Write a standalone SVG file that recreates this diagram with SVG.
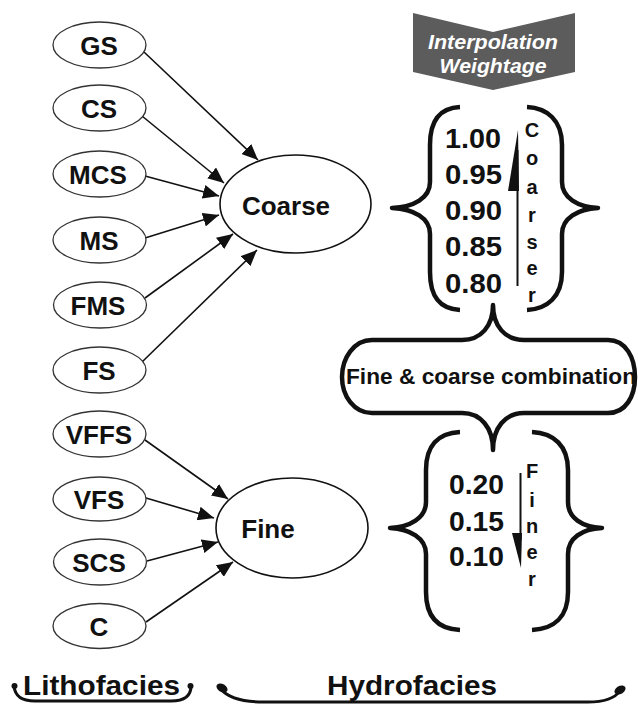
<svg xmlns="http://www.w3.org/2000/svg" width="638" height="704" viewBox="0 0 638 704">
<style>
text{font-family:"Liberation Sans",Arial,sans-serif;font-weight:bold;fill:#111;}
.sm ellipse{fill:#fff;stroke:#333;stroke-width:1.3;}
.sm text{font-size:26px;text-anchor:middle;}
.big ellipse{fill:#fff;stroke:#111;stroke-width:1.6;}
.big text{font-size:26px;text-anchor:middle;}
.conn line{stroke:#111;stroke-width:1.6;marker-end:url(#ah);}
.brace{fill:none;stroke:#111;stroke-width:4.5;stroke-linejoin:round;}
.num{font-size:28px;}
.vl{font-size:20px;text-anchor:middle;}
</style>
<defs>
<marker id="ah" markerUnits="userSpaceOnUse" markerWidth="18" markerHeight="14" refX="16" refY="7" orient="auto">
<path d="M0,0 L16,7 L0,14 Z" fill="#111"/>
</marker>
</defs>
<rect width="638" height="704" fill="#fff"/>

<g id="connectors" class="conn">
<line x1="144" y1="52" x2="258" y2="160"/>
<line x1="142" y1="116" x2="224" y2="183"/>
<line x1="145" y1="176" x2="219" y2="196"/>
<line x1="145" y1="238" x2="219" y2="215"/>
<line x1="145" y1="298" x2="233" y2="234"/>
<line x1="142" y1="362" x2="257" y2="250"/>
<line x1="145" y1="440" x2="228" y2="499"/>
<line x1="146" y1="498" x2="214" y2="518"/>
<line x1="147" y1="561" x2="218" y2="542"/>
<line x1="146" y1="622" x2="233" y2="562"/>
</g>

<g id="GS" class="sm"><ellipse cx="99.5" cy="45" rx="46.5" ry="23"/><text x="99" y="55">GS</text></g>
<g id="CS" class="sm"><ellipse cx="99.5" cy="108" rx="46.5" ry="23"/><text x="99" y="118">CS</text></g>
<g id="MCS" class="sm"><ellipse cx="99.5" cy="174" rx="46.5" ry="23"/><text x="98" y="184">MCS</text></g>
<g id="MS" class="sm"><ellipse cx="99.5" cy="240" rx="46.5" ry="23"/><text x="99" y="250">MS</text></g>
<g id="FMS" class="sm"><ellipse cx="100" cy="305" rx="46.5" ry="23"/><text x="98" y="315">FMS</text></g>
<g id="FS" class="sm"><ellipse cx="99.5" cy="370" rx="46.5" ry="23"/><text x="99" y="380">FS</text></g>
<g id="VFFS" class="sm"><ellipse cx="99.5" cy="434" rx="46.5" ry="23"/><text x="99" y="444">VFFS</text></g>
<g id="VFS" class="sm"><ellipse cx="99.5" cy="499" rx="46.5" ry="22"/><text x="99" y="509">VFS</text></g>
<g id="SCS" class="sm"><ellipse cx="100" cy="562" rx="46.5" ry="23"/><text x="99" y="572">SCS</text></g>
<g id="C" class="sm"><ellipse cx="99.5" cy="626" rx="46.5" ry="22.5"/><text x="99" y="636">C</text></g>

<g id="Coarse" class="big"><ellipse cx="295.5" cy="204" rx="75.5" ry="49"/><text x="286" y="215">Coarse</text></g>
<g id="Fine" class="big"><ellipse cx="292" cy="528" rx="76" ry="50"/><text x="268" y="538">Fine</text></g>

<g id="banner">
<polygon points="413,13 493,32 575,13 575,72 493,90 413,72" fill="#5c5c5c"/>
<text x="493" y="49" font-size="21" font-style="italic" text-anchor="middle" textLength="130" lengthAdjust="spacingAndGlyphs" style="fill:#fff">Interpolation</text>
<text x="493" y="73" font-size="21" font-style="italic" text-anchor="middle" textLength="107" lengthAdjust="spacingAndGlyphs" style="fill:#fff">Weightage</text>
</g>

<g id="coarse-weights">
<path class="brace" d="M460,107 C440,108 430,120 430,145 L430,182 C430,198 414,207 392,208 C414,209 430,218 430,234 L430,272 C430,297 440,309 460,310"/>
<path class="brace" d="M527,107 C547,108 562,120 562,145 L562,182 C562,198 578,207 598,208 C578,209 562,218 562,234 L562,272 C562,297 547,309 527,310"/>
<text class="num" x="445" y="148" textLength="56" lengthAdjust="spacingAndGlyphs">1.00</text>
<text class="num" x="445" y="184" textLength="57" lengthAdjust="spacingAndGlyphs">0.95</text>
<text class="num" x="445" y="220" textLength="57" lengthAdjust="spacingAndGlyphs">0.90</text>
<text class="num" x="445" y="256" textLength="57" lengthAdjust="spacingAndGlyphs">0.85</text>
<text class="num" x="445" y="293" textLength="57" lengthAdjust="spacingAndGlyphs">0.80</text>
<line x1="517.5" y1="286" x2="517.5" y2="150" stroke="#111" stroke-width="2"/>
<polygon points="508,191 519,191 518,130" fill="#111"/>
<text class="vl" x="532" y="137">C</text>
<text class="vl" x="532" y="165">o</text>
<text class="vl" x="532" y="194">a</text>
<text class="vl" x="532" y="222">r</text>
<text class="vl" x="532" y="249">s</text>
<text class="vl" x="532" y="275">e</text>
<text class="vl" x="532" y="302">r</text>
</g>

<g id="combination">
<path class="brace" d="M493,305 C493,326 481,340 462,340 L372,340 C354,340 342,358 342,377 C342,396 354,413 372,413 L462,413 C481,413 493,428 493,450 C493,428 505,413 524,413 L608,413 C626,413 635,396 635,377 C635,358 626,340 608,340 L524,340 C505,340 493,326 493,305 Z"/>
<text x="491" y="384" font-size="22" text-anchor="middle" textLength="290" lengthAdjust="spacingAndGlyphs">Fine &amp; coarse combination</text>
</g>

<g id="fine-weights">
<path class="brace" d="M460,432 C438,433 426,446 426,470 L426,502 C426,518 410,527 390,528 C410,529 426,538 426,554 L426,592 C426,617 438,629 460,630"/>
<path class="brace" d="M532,432 C554,433 568,446 568,470 L568,502 C568,518 582,527 602,528 C582,529 568,538 568,554 L568,592 C568,617 554,629 532,630"/>
<text class="num" x="449" y="494" textLength="55" lengthAdjust="spacingAndGlyphs">0.20</text>
<text class="num" x="449" y="531" textLength="55" lengthAdjust="spacingAndGlyphs">0.15</text>
<text class="num" x="449" y="566" textLength="55" lengthAdjust="spacingAndGlyphs">0.10</text>
<line x1="520.5" y1="473" x2="520.5" y2="540" stroke="#111" stroke-width="2"/>
<polygon points="512,533 522,533 521,568" fill="#111"/>
<text class="vl" x="532" y="478">F</text>
<text class="vl" x="532" y="507">i</text>
<text class="vl" x="532" y="533">n</text>
<text class="vl" x="532" y="559">e</text>
<text class="vl" x="532" y="586">r</text>
</g>

<g id="lithofacies">
<path d="M14,686 C15,696 21,701 35,701 L171,701 C185,701 191,696 191,686" fill="none" stroke="#111" stroke-width="3"/>
<circle cx="14.5" cy="686" r="3" fill="#111"/>
<circle cx="190.5" cy="686" r="3" fill="#111"/>
<text x="23" y="695" font-size="27" textLength="157" lengthAdjust="spacingAndGlyphs">Lithofacies</text>
</g>

<g id="hydrofacies">
<path d="M221,689 C228,698 242,702 264,702 L588,702 C606,702 615,698 620,691" fill="none" stroke="#111" stroke-width="3"/>
<ellipse cx="222" cy="688" rx="6" ry="4" transform="rotate(30 222 688)" fill="#111"/>
<ellipse cx="620" cy="690" rx="6" ry="4" transform="rotate(-30 620 690)" fill="#111"/>
<text x="327" y="695" font-size="27" textLength="170" lengthAdjust="spacingAndGlyphs">Hydrofacies</text>
</g>
</svg>
